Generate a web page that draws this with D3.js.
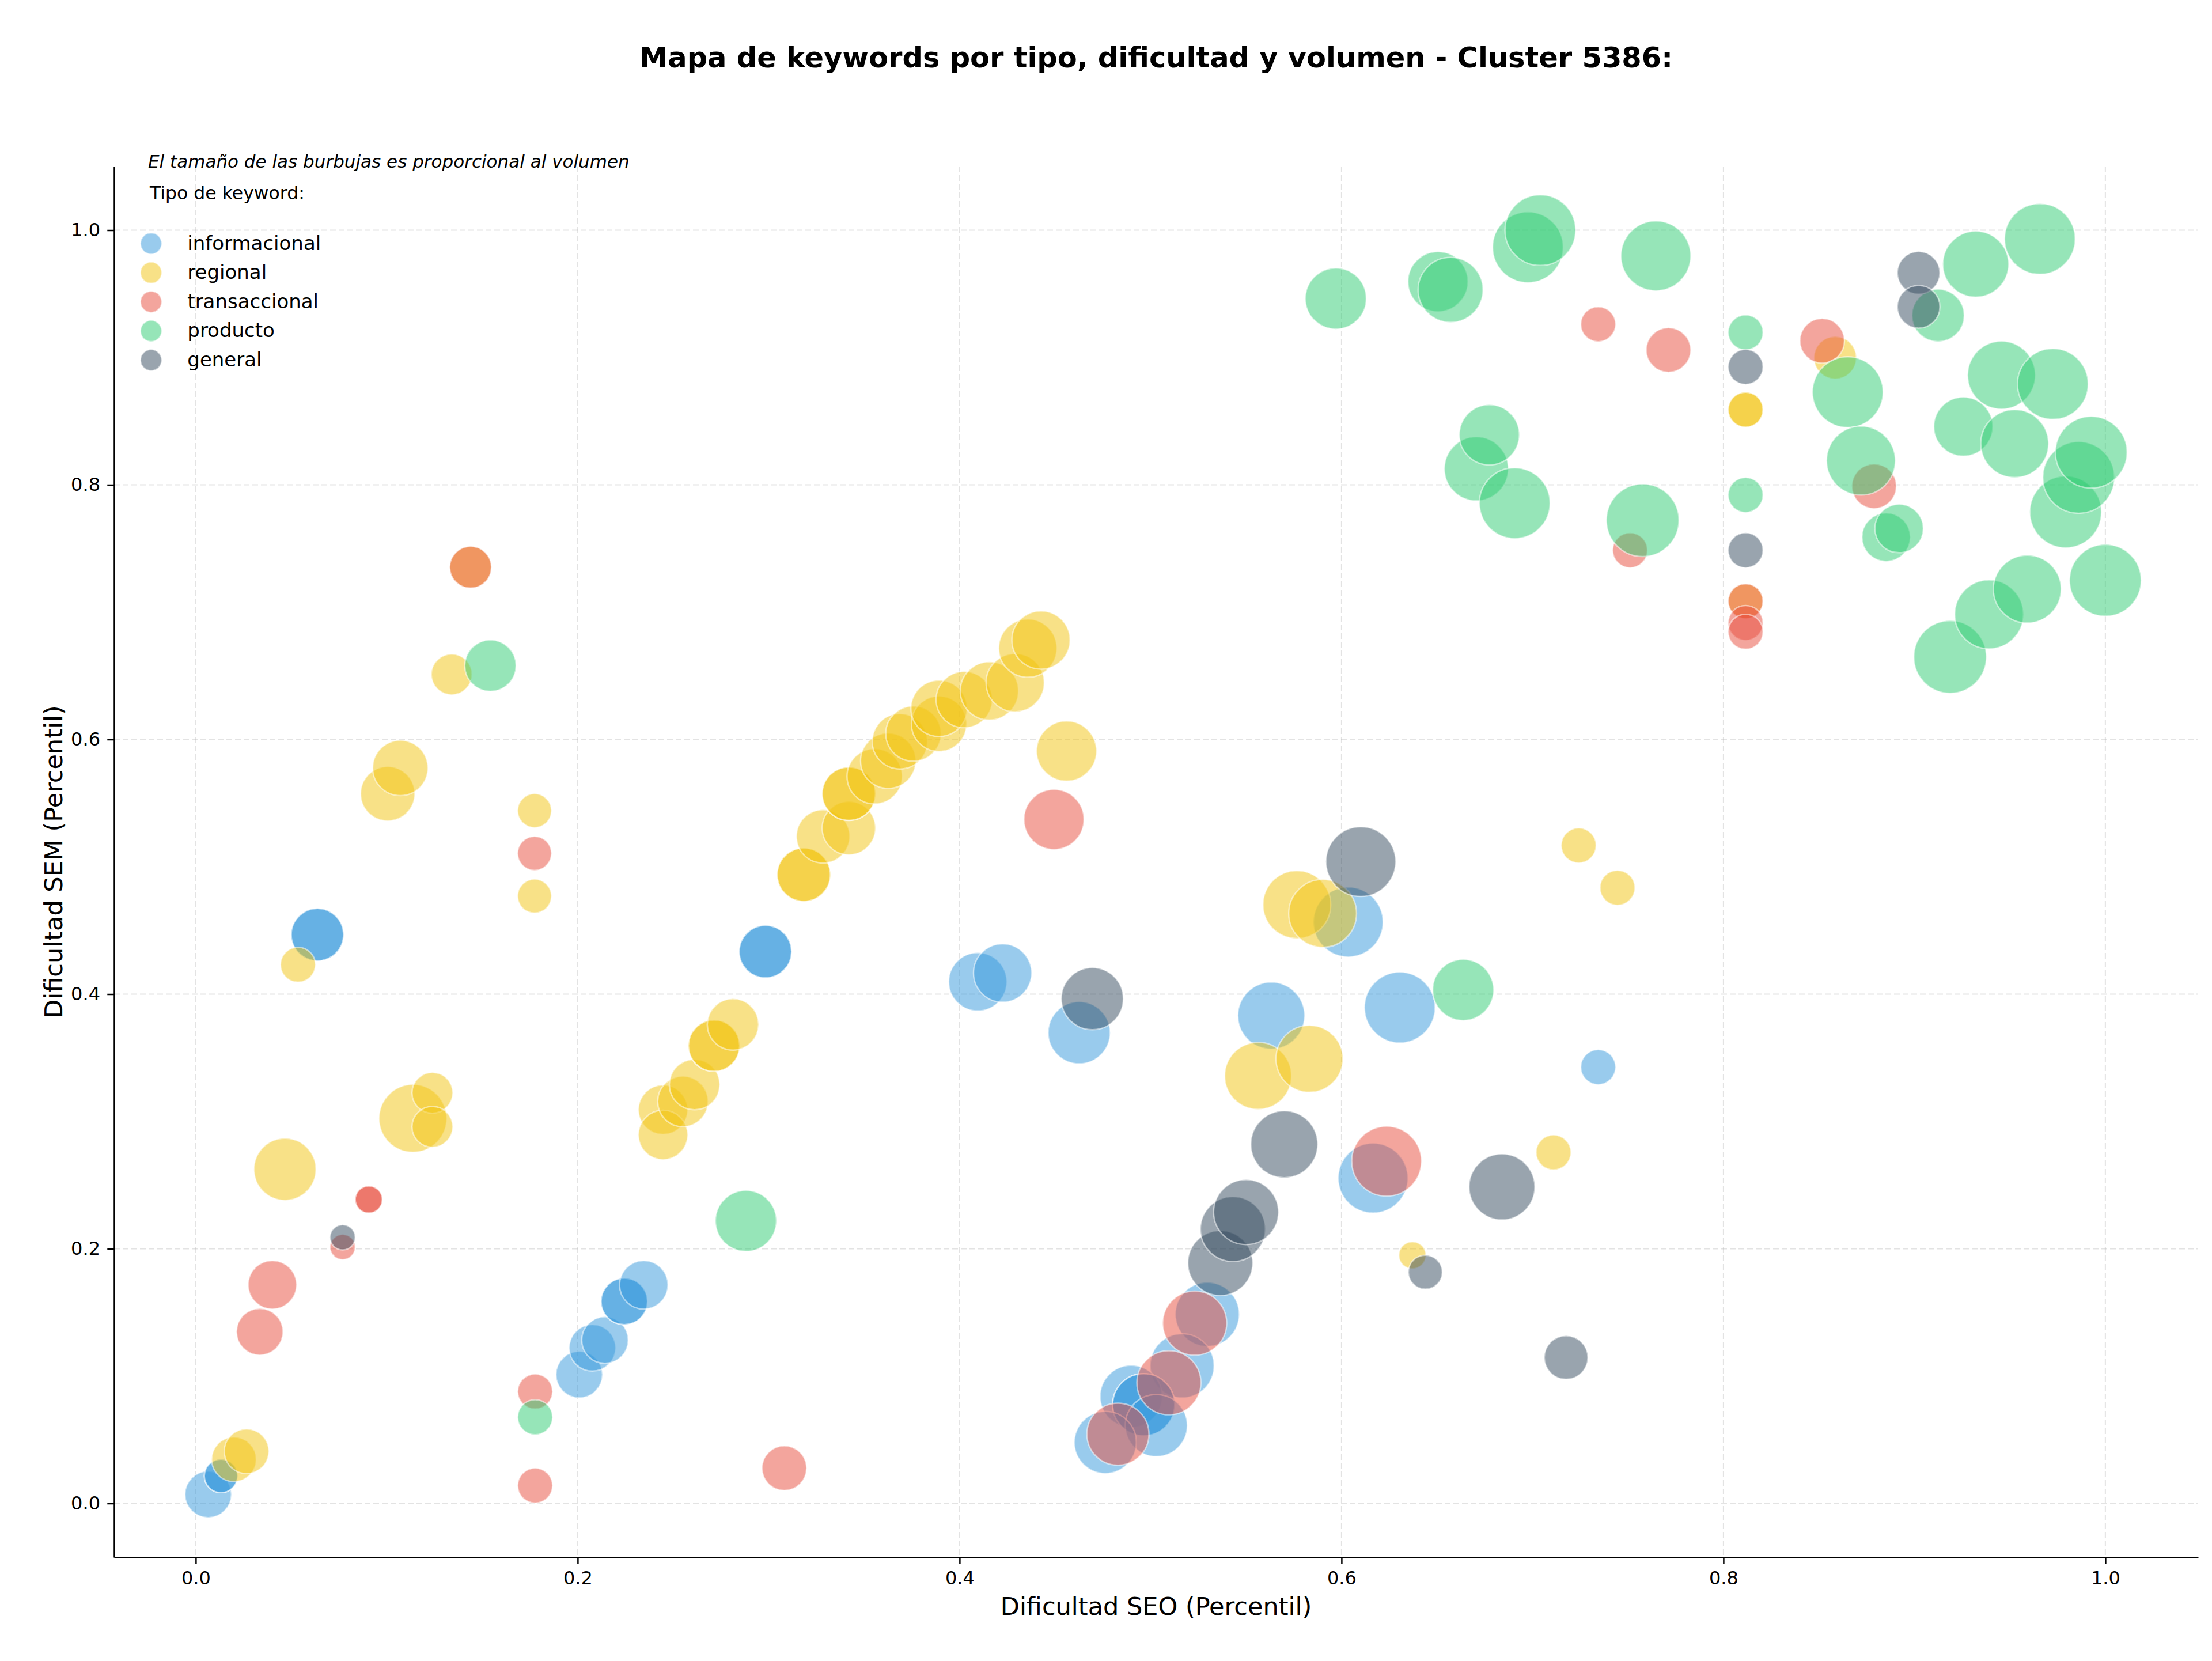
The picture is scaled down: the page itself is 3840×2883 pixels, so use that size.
<!DOCTYPE html>
<meta charset="utf-8">
<style>
body { margin: 0; background: #fff; }
svg { display: block; font-family: "DejaVu Sans", sans-serif; }
.grid line { stroke: #b0b0b0; stroke-opacity: 0.35; stroke-width: 2; stroke-dasharray: 10 5; }
.axis .domain { stroke: #000; stroke-width: 2.5; }
.axis .tick line { stroke: #000; stroke-width: 2.5; }
.axis .tick text { font-size: 32px; fill: #000; font-family: "DejaVu Sans", sans-serif; }
.bubble { stroke: #fff; stroke-width: 2.5; fill-opacity: 0.5; stroke-opacity: 0.5; }
</style>
<body>
<script src="https://d3js.org/d3.v7.min.js"></script>
<script>

// [dificultad SEO, dificultad SEM, volumen]
var informacional = [
  [0.0065, 0.0071, 408], [0.0132, 0.0216, 210], [0.0132, 0.0216, 210],
  [0.0637, 0.4467, 518], [0.0637, 0.4467, 518],
  [0.2008, 0.1012, 408], [0.2077, 0.1222, 408], [0.2143, 0.1283, 408],
  [0.2244, 0.1587, 408], [0.2244, 0.1587, 408], [0.2346, 0.1717, 443],
  [0.2983, 0.4334, 518], [0.2983, 0.4334, 518],
  [0.4095, 0.4097, 638], [0.4225, 0.4166, 638], [0.4626, 0.3697, 726],
  [0.5632, 0.3831, 844], [0.6035, 0.4566, 918], [0.6305, 0.3895, 943],
  [0.6165, 0.2555, 918], [0.7344, 0.3427, 230],
  [0.5297, 0.1485, 773], [0.5165, 0.1081, 773], [0.4898, 0.0841, 726],
  [0.4964, 0.0776, 726], [0.4964, 0.0776, 726], [0.5030, 0.0612, 726],
  [0.4763, 0.0479, 726]
];

var regional = [
  [0.0200, 0.0346, 375], [0.0266, 0.0410, 375], [0.0467, 0.2624, 726],
  [0.0535, 0.4231, 230], [0.1005, 0.5574, 555], [0.1071, 0.5776, 576],
  [0.1137, 0.3024, 867], [0.1239, 0.3225, 313], [0.1239, 0.2958, 313],
  [0.1340, 0.6511, 313], [0.1439, 0.7353, 330], [0.1774, 0.5441, 217],
  [0.1774, 0.4770, 217], [0.2447, 0.3092, 460], [0.2447, 0.2894, 460],
  [0.2551, 0.3157, 480], [0.2612, 0.3290, 480], [0.2714, 0.3595, 497],
  [0.2714, 0.3595, 497], [0.2813, 0.3762, 497],
  [0.3184, 0.4938, 536], [0.3184, 0.4938, 536], [0.3285, 0.5239, 536],
  [0.3420, 0.5304, 536], [0.3420, 0.5574, 536], [0.3420, 0.5574, 536],
  [0.3555, 0.5711, 576], [0.3626, 0.5833, 576], [0.3687, 0.5985, 576],
  [0.3758, 0.6046, 576], [0.3892, 0.6123, 576], [0.3892, 0.6244, 595],
  [0.4024, 0.6313, 595], [0.4156, 0.6381, 638], [0.4291, 0.6446, 638],
  [0.4357, 0.6717, 638], [0.4426, 0.6781, 638], [0.4560, 0.5909, 681],
  [0.5563, 0.3358, 844], [0.5766, 0.4703, 867], [0.5832, 0.3492, 844],
  [0.5901, 0.4634, 867], [0.6371, 0.1949, 139], [0.7110, 0.2757, 230],
  [0.7242, 0.5168, 230], [0.7445, 0.4835, 230],
  [0.8116, 0.8590, 230], [0.8116, 0.8590, 230], [0.8116, 0.7086, 230],
  [0.8585, 0.8998, 342]
];

var transaccional = [
  [0.0335, 0.1348, 408], [0.0401, 0.1717, 443], [0.0769, 0.2014, 120],
  [0.0906, 0.2387, 139], [0.0906, 0.2387, 139], [0.1439, 0.7353, 330],
  [0.1774, 0.5105, 217], [0.1777, 0.0879, 230], [0.1777, 0.0140, 230],
  [0.3082, 0.0277, 375], [0.4494, 0.5372, 681], [0.4829, 0.0544, 726],
  [0.5096, 0.0948, 773], [0.5231, 0.1416, 773], [0.6236, 0.2688, 918],
  [0.7344, 0.9261, 230], [0.7511, 0.7486, 230], [0.7712, 0.9059, 375],
  [0.8116, 0.7086, 230], [0.8116, 0.6915, 230], [0.8116, 0.6846, 230],
  [0.8517, 0.9131, 375], [0.8789, 0.7989, 375]
];

var producto = [
  [0.1543, 0.6580, 497], [0.1777, 0.0677, 230], [0.2881, 0.2219, 702],
  [0.5970, 0.9463, 702], [0.6505, 0.9596, 681], [0.6571, 0.9531, 795],
  [0.6637, 0.4033, 702], [0.6706, 0.8126, 773], [0.6774, 0.8393, 681],
  [0.6907, 0.7856, 943], [0.6976, 0.9866, 943], [0.7041, 1.0000, 943],
  [0.7577, 0.7722, 995], [0.7646, 0.9798, 918], [0.8116, 0.9197, 230],
  [0.8116, 0.7920, 230], [0.8651, 0.8728, 943], [0.8720, 0.8190, 894],
  [0.8852, 0.7589, 443], [0.8920, 0.7657, 443], [0.9124, 0.9330, 518],
  [0.9187, 0.6648, 995], [0.9256, 0.8457, 658], [0.9321, 0.9733, 818],
  [0.9391, 0.6983, 894], [0.9456, 0.8861, 867], [0.9525, 0.8324, 867],
  [0.9591, 0.7181, 867], [0.9657, 0.9931, 943], [0.9725, 0.8792, 943],
  [0.9792, 0.7787, 970], [0.9860, 0.8058, 970], [0.9926, 0.8256, 970],
  [1.0000, 0.7250, 970]
];

var general = [
  [0.0769, 0.2090, 120], [0.4695, 0.3964, 726], [0.5365, 0.1888, 795],
  [0.5431, 0.2155, 795], [0.5500, 0.2288, 795], [0.5700, 0.2821, 844],
  [0.6101, 0.5041, 918], [0.6439, 0.1816, 217], [0.6840, 0.2486, 818],
  [0.7176, 0.1146, 359], [0.8116, 0.8926, 230], [0.8116, 0.7486, 230],
  [0.9022, 0.9665, 342], [0.9022, 0.9398, 342]
];

var tipos = ["informacional", "regional", "transaccional", "producto", "general"];
var series = [informacional, regional, transaccional, producto, general];
var colores = ["#3498db", "#f1c40f", "#e74c3c", "#2ecc71", "#34495e"];
var ticks = [0, 0.2, 0.4, 0.6, 0.8, 1.0];

var width = 3840, height = 2883;
var plot = {left: 198, right: 3816, top: 289, bottom: 2703};

var x = d3.scaleLinear().domain([-0.0428, 1.0486]).range([plot.left, plot.right]);
var y = d3.scaleLinear().domain([-0.0423, 1.0500]).range([plot.bottom, plot.top]);
var r = d3.scaleSqrt().domain([0, 1000]).range([0, 63.2]);
var color = d3.scaleOrdinal().domain(tipos).range(colores);

var svg = d3.select("body").append("svg")
    .attr("width", width)
    .attr("height", height);

// grid
var grid = svg.append("g").attr("class", "grid");
grid.selectAll(".gx").data(ticks).enter().append("line")
    .attr("x1", d => x(d)).attr("x2", d => x(d))
    .attr("y1", plot.top).attr("y2", plot.bottom);
grid.selectAll(".gy").data(ticks).enter().append("line")
    .attr("y1", d => y(d)).attr("y2", d => y(d))
    .attr("x1", plot.left).attr("x2", plot.right);

// bubbles, one layer per tipo in legend order
tipos.forEach(function(t, i) {
  svg.append("g").selectAll("circle")
      .data(series[i])
    .enter().append("circle")
      .attr("class", "bubble")
      .attr("cx", d => x(d[0]))
      .attr("cy", d => y(d[1]))
      .attr("r", d => r(d[2]))
      .attr("fill", color(t));
});

// axes
svg.append("g")
    .attr("class", "axis")
    .attr("transform", "translate(0," + plot.bottom + ")")
    .call(d3.axisBottom(x).tickValues(ticks).tickFormat(d3.format(".1f"))
        .tickSize(11.7).tickSizeOuter(0).tickPadding(12.6));

svg.append("g")
    .attr("class", "axis")
    .attr("transform", "translate(" + plot.left + ",0)")
    .call(d3.axisLeft(y).tickValues(ticks).tickFormat(d3.format(".1f"))
        .tickSize(11.7).tickSizeOuter(0).tickPadding(12.3));

// titles
svg.append("text")
    .attr("x", (plot.left + plot.right) / 2)
    .attr("y", 117)
    .attr("text-anchor", "middle")
    .attr("font-size", 49.5)
    .attr("font-weight", "bold")
    .text("Mapa de keywords por tipo, dificultad y volumen - Cluster 5386:");

svg.append("text")
    .attr("x", (plot.left + plot.right) / 2)
    .attr("y", 2803)
    .attr("text-anchor", "middle")
    .attr("font-size", 43)
    .text("Dificultad SEO (Percentil)");

svg.append("text")
    .attr("transform", "translate(93," + (plot.top + plot.bottom) / 2 + ") rotate(-90)")
    .attr("dy", "0.35em")
    .attr("text-anchor", "middle")
    .attr("font-size", 43)
    .text("Dificultad SEM (Percentil)");

svg.append("text")
    .attr("x", 257)
    .attr("y", 291)
    .attr("font-size", 31)
    .attr("font-style", "italic")
    .text("El tamaño de las burbujas es proporcional al volumen");

// legend
var legend = svg.append("g");
legend.append("text")
    .attr("x", 260)
    .attr("y", 346)
    .attr("font-size", 31.5)
    .text("Tipo de keyword:");

var item = legend.selectAll(".item")
    .data(tipos)
  .enter().append("g")
    .attr("transform", (d, i) => "translate(262.3," + (422.7 + i * 50.6) + ")");

item.append("circle")
    .attr("class", "bubble")
    .attr("r", 18.5)
    .attr("fill", d => color(d));

item.append("text")
    .attr("x", 63)
    .attr("dy", "0.32em")
    .attr("font-size", 34)
    .text(d => d);

</script>
